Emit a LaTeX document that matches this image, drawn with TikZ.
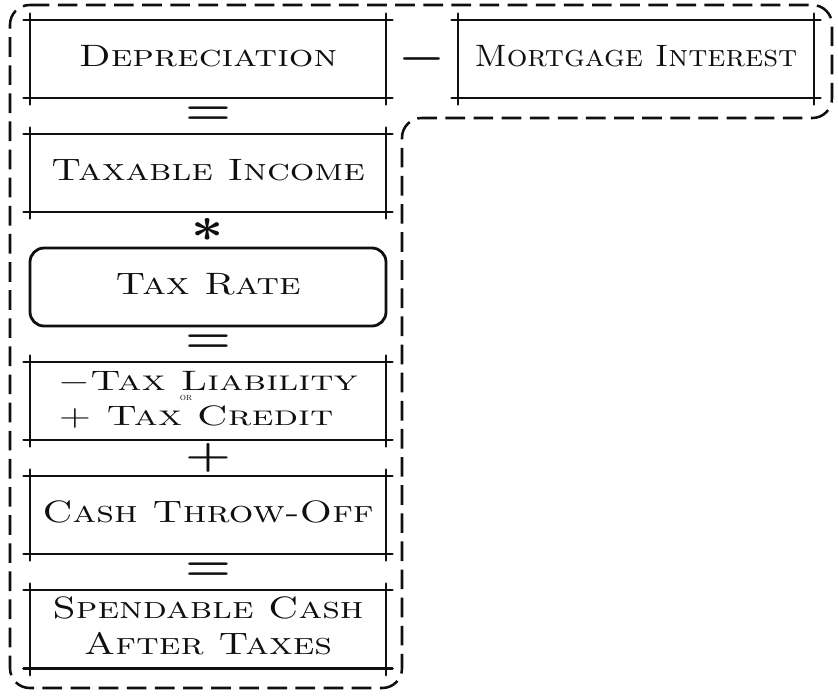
\documentclass[tikz,border=0pt]{standalone}
\usepackage{graphicx}
\usepackage{tikz}
\usetikzlibrary{positioning, calc}
\definecolor{inkblack}{RGB}{15,15,15}
\tikzset{
  ledger/.style={rectangle, minimum width=8.9cm, minimum height=1.95cm,
    inner sep=2pt, outer sep=0pt, align=center,
    font=\fontsize{22}{26}\selectfont\scshape, text=inkblack},
  ratebox/.style={ledger, draw=inkblack, rounded corners=10pt, line width=2pt},
  frameline/.style={line width=2pt, line cap=round, color=inkblack},
  opsign/.style={font=\fontsize{24.88}{26}\selectfont\boldmath, text=inkblack, inner sep=0pt},
  outline/.style={dash pattern=on 14pt off 6pt, line width=1.8pt,
    color=inkblack, rounded corners=14pt}
}
% corner-crossing frame round a ledger node
\newcommand{\crossframe}[1]{%
  \draw[frameline] ([xshift=-1.6mm]#1.north west) -- ([xshift=1.6mm]#1.north east);
  \draw[frameline] ([xshift=-1.6mm]#1.south west) -- ([xshift=1.6mm]#1.south east);
  \draw[frameline] ([yshift=1.6mm]#1.north west) -- ([yshift=-1.6mm]#1.south west);
  \draw[frameline] ([yshift=1.6mm]#1.north east) -- ([yshift=-1.6mm]#1.south east);
}
% wide hand lettering
\newcommand{\hand}[3][1.25]{\scalebox{#1}[1]{\begin{tabular}{@{}#2@{}}#3\end{tabular}}}

\begin{document}
\begin{tikzpicture}
  \useasboundingbox (0,0) rectangle (20.95,-17.425);
  % column of steps
  \node [ledger] (depr) at (5.2,-1.475) {\hand{c}{Depreciation}};
  \node [ledger, right=1.8cm of depr] (mortg) {\hand[1.05]{c}{Mortgage Interest}};
  \node [ledger, below=0.9cm of depr] (taxinc) {\hand{c}{Taxable Income}};
  \node [ratebox, below=0.9cm of taxinc] (rate) {\hand{c}{Tax Rate}};
  \node [ledger, below=0.9cm of rate, font=\fontsize{20}{25}\selectfont\scshape] (liab)
    {\hand[1.4]{l}{$-$Tax Liability\\+ Tax Credit}};
  \node [ledger, below=0.9cm of liab] (cashoff) {\hand{c}{Cash Throw-Off}};
  \node [ledger, below=0.9cm of cashoff] (spend) {\hand{c}{Spendable Cash\\After Taxes}};
  \node [font=\fontsize{7}{7}\selectfont\scshape, text=inkblack, inner sep=0pt] (ornote)
    at ([xshift=-0.55cm, yshift=0.08cm]liab.center) {or};
  % frames
  \crossframe{depr}
  \crossframe{mortg}
  \crossframe{taxinc}
  \crossframe{liab}
  \crossframe{cashoff}
  \crossframe{spend}
  % operators
  \node [opsign] (minus) at ($(depr.east)!0.5!(mortg.west)$) {\scalebox{1.5}[1.2]{$-$}};
  \node [opsign] (eq1) at ($(depr.south)!0.5!(taxinc.north)$) {\scalebox{1.5}[1.3]{$=$}};
  \node [opsign] (times) at ($(taxinc.south)!0.5!(rate.north)$) {\scalebox{1.6}[1.4]{$\ast$}};
  \node [opsign] (eq2) at ($(rate.south)!0.5!(liab.north)$) {\scalebox{1.5}[1.3]{$=$}};
  \node [opsign] (plus) at ($(liab.south)!0.5!(cashoff.north)$) {\scalebox{1.5}[1.1]{$+$}};
  \node [opsign] (eq3) at ($(cashoff.south)!0.5!(spend.north)$) {\scalebox{1.5}[1.3]{$=$}};
  % dashed outline
  \draw [outline] (0.25,-0.125) -- (20.8,-0.125) -- (20.8,-2.95) -- (10.05,-2.95)
    -- (10.05,-17.2) -- (0.25,-17.2) -- cycle;
\end{tikzpicture}
\end{document}
